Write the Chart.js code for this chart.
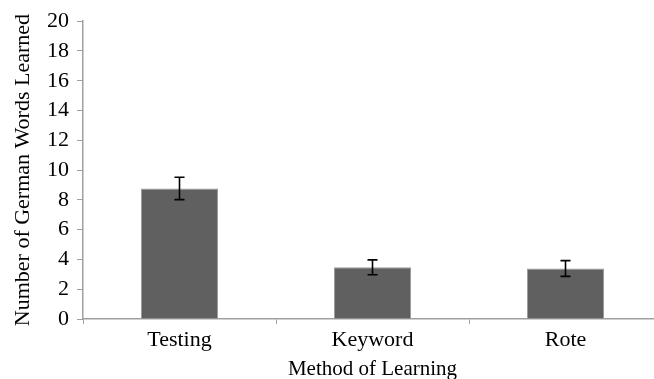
<!DOCTYPE html>
<html>
<head>
<meta charset="utf-8">
<script src="https://cdn.jsdelivr.net/npm/chart.js@4.4.0/dist/chart.umd.min.js"></script>
<style>
html,body{margin:0;padding:0;background:#fff;overflow:hidden;width:654px;height:379px;}
#wrap{position:absolute;left:0;top:0;width:665px;height:395px;}
</style>
</head>
<body>
<div id="wrap"><canvas id="c" width="665" height="395"></canvas></div>
<script>
const categories = ["Testing", "Keyword", "Rote"];
const meanWords = [8.77, 3.47, 3.39];
const errorAmounts = [0.75, 0.5, 0.53];
const yTicks = [0, 2, 4, 6, 8, 10, 12, 14, 16, 18, 20];

const FONT = "'Liberation Serif', 'Times New Roman', serif";

const errorBarPlugin = {
  id: 'errorBars',
  afterDatasetsDraw(chart) {
    const ctx = chart.ctx;
    const meta = chart.getDatasetMeta(0);
    const y = chart.scales.y;
    ctx.save();
    ctx.strokeStyle = '#000';
    ctx.lineWidth = 1.6;
    meta.data.forEach((bar, i) => {
      const v = meanWords[i], e = errorAmounts[i];
      const x = bar.x;
      const yTop = y.getPixelForValue(v + e);
      const yBot = y.getPixelForValue(v - e);
      const cap = 5;
      ctx.beginPath();
      ctx.moveTo(x, yTop); ctx.lineTo(x, yBot);
      ctx.moveTo(x - cap, yTop); ctx.lineTo(x + cap, yTop);
      ctx.moveTo(x - cap, yBot); ctx.lineTo(x + cap, yBot);
      ctx.stroke();
    });
    ctx.restore();
  }
};

new Chart(document.getElementById('c'), {
  type: 'bar',
  data: {
    labels: categories,
    datasets: [{
      data: meanWords,
      backgroundColor: '#606060',
      borderColor: '#9a9a9a',
      borderWidth: 1,
      barPercentage: 0.4,
      categoryPercentage: 1.0
    }]
  },
  options: {
    responsive: false,
    animation: false,
    devicePixelRatio: 1,
    layout: { padding: { top: 18, left: 0, right: 3, bottom: 0 } },
    plugins: { legend: { display: false }, tooltip: { enabled: false } },
    scales: {
      x: {
        offset: true,
        grid: { display: true, drawOnChartArea: false, drawTicks: true, tickLength: 5, color: '#a0a0a0', offset: true },
        border: { display: true, color: '#a0a0a0', width: 1.5 },
        ticks: { color: '#000', font: { family: FONT, size: 22 }, padding: 3, maxRotation: 0 },
        title: { display: true, text: 'Method of Learning', color: '#000', font: { family: FONT, size: 21 }, padding: { top: 0, bottom: 13 } },
        afterFit(scale) { scale.height = 76; }
      },
      y: {
        min: 0, max: 20,
        afterBuildTicks(scale) { scale.ticks = yTicks.map(v => ({ value: v })); },
        grid: { display: true, drawOnChartArea: false, drawTicks: true, tickLength: 6, color: '#a0a0a0' },
        border: { display: true, color: '#a0a0a0', width: 1.5 },
        ticks: { color: '#000', font: { family: FONT, size: 22 }, padding: 8 },
        title: { display: true, text: 'Number of German Words Learned', color: '#000', font: { family: FONT, size: 22 }, padding: { top: 10, bottom: 0 } },
        afterFit(scale) { scale.width = 83; }
      }
    }
  },
  plugins: [errorBarPlugin]
});
</script>
</body>
</html>
